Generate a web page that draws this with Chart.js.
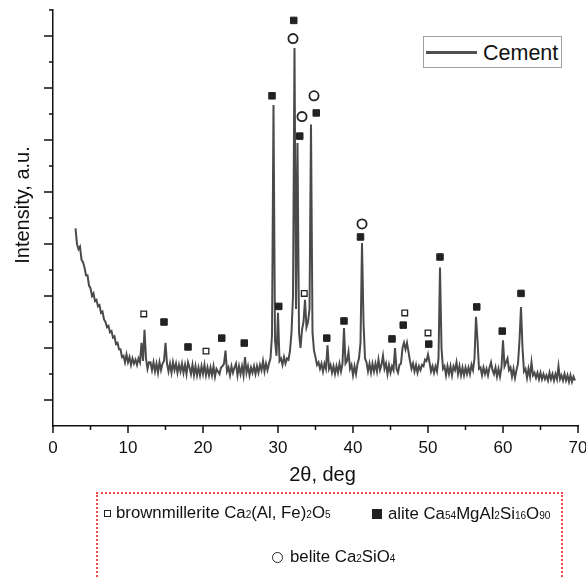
<!DOCTYPE html>
<html>
<head>
<meta charset="utf-8">
<script src="https://cdn.jsdelivr.net/npm/chart.js@4.4.1/dist/chart.umd.min.js"></script>
<style>
  html, body { margin: 0; padding: 0; background: #fff; overflow: hidden; }
  #wrap { position: relative; width: 586px; height: 577px; font-family: "Liberation Sans", Arial, sans-serif; color: #111; }
  #chart { position: absolute; left: 0; top: 0; }
  .legend { position: absolute; left: 423px; top: 36px; width: 137px; height: 30px; border: 1px solid #a0a0a0; background: #fff; }
  .legend .swatch { position: absolute; left: 2px; top: 14px; width: 51px; height: 2.5px; background: #505050; }
  .legend .label { position: absolute; left: 59px; top: 5px; font-size: 21.5px; line-height: 22px; white-space: nowrap; }
  .phases { position: absolute; left: 96px; top: 492px; width: 463px; height: 120px; border: 2px dotted #f04848; }
  .item { position: absolute; font-size: 16.8px; line-height: 16px; white-space: nowrap; }
  .item sub { font-size: 0.6em; vertical-align: baseline; }
  .sym { position: absolute; box-sizing: border-box; }
</style>
</head>
<body>
<div id="wrap">
  <canvas id="chart" width="586" height="577"></canvas>
  <div class="legend"><div class="swatch"></div><div class="label">Cement</div></div>
  <div class="phases">
    <span class="sym" style="left:6px; top:16px; width:7px; height:7px; border:1px solid #222;"></span>
    <div class="item" style="left:18px; top:11px;">brownmillerite Ca<sub>2</sub>(Al, Fe)<sub>2</sub>O<sub>5</sub></div>
    <span class="sym" style="left:274px; top:15px; width:10px; height:10px; background:#222;"></span>
    <div class="item" style="left:290px; top:12px;">alite Ca<sub>54</sub>MgAl<sub>2</sub>Si<sub>16</sub>O<sub>90</sub></div>
    <span class="sym" style="left:174px; top:58px; width:11px; height:11px; border:1px solid #222; border-radius:50%;"></span>
    <div class="item" style="left:192px; top:55px;">belite Ca<sub>2</sub>SiO<sub>4</sub></div>
  </div>
</div>
<script>
// XRD pattern of the cement, 2theta in degrees, intensity in arbitrary units
const twoTheta = [
  3.0, 3.2, 3.4, 3.6, 3.8, 4.0, 4.2, 4.4, 4.6, 4.8,
  5.0, 5.2, 5.4, 5.6, 5.8, 6.0, 6.2, 6.4, 6.6, 6.8,
  7.0, 7.2, 7.4, 7.6, 7.8, 8.0, 8.2, 8.4, 8.6, 8.8,
  9.0, 9.2, 9.4, 9.6, 9.8, 10.0, 10.2, 10.4, 10.6, 10.8,
  11.0, 11.2, 11.4, 11.6, 11.8, 12.0, 12.2, 12.4, 12.6, 12.8,
  13.0, 13.2, 13.4, 13.6, 13.8, 14.0, 14.2, 14.4, 14.6, 14.8,
  15.0, 15.2, 15.4, 15.6, 15.8, 16.0, 16.2, 16.4, 16.6, 16.8,
  17.0, 17.2, 17.4, 17.6, 17.8, 18.0, 18.2, 18.4, 18.6, 18.8,
  19.0, 19.2, 19.4, 19.6, 19.8, 20.0, 20.2, 20.4, 20.6, 20.8,
  21.0, 21.2, 21.4, 21.6, 21.8, 22.0, 22.2, 22.4, 22.6, 22.8,
  23.0, 23.2, 23.4, 23.6, 23.8, 24.0, 24.2, 24.4, 24.6, 24.8,
  25.0, 25.2, 25.4, 25.6, 25.8, 26.0, 26.2, 26.4, 26.6, 26.8,
  27.0, 27.2, 27.4, 27.6, 27.8, 28.0, 28.2, 28.4, 28.6, 28.8,
  29.0, 29.2, 29.4, 29.6, 29.8, 30.0, 30.2, 30.4, 30.6, 30.8,
  31.0, 31.2, 31.4, 31.6, 31.8, 32.0, 32.2, 32.4, 32.6, 32.8,
  33.0, 33.2, 33.4, 33.6, 33.8, 34.0, 34.2, 34.4, 34.6, 34.8,
  35.0, 35.2, 35.4, 35.6, 35.8, 36.0, 36.2, 36.4, 36.6, 36.8,
  37.0, 37.2, 37.4, 37.6, 37.8, 38.0, 38.2, 38.4, 38.6, 38.8,
  39.0, 39.2, 39.4, 39.6, 39.8, 40.0, 40.2, 40.4, 40.6, 40.8,
  41.0, 41.2, 41.4, 41.6, 41.8, 42.0, 42.2, 42.4, 42.6, 42.8,
  43.0, 43.2, 43.4, 43.6, 43.8, 44.0, 44.2, 44.4, 44.6, 44.8,
  45.0, 45.2, 45.4, 45.6, 45.8, 46.0, 46.2, 46.4, 46.6, 46.8,
  47.0, 47.2, 47.4, 47.6, 47.8, 48.0, 48.2, 48.4, 48.6, 48.8,
  49.0, 49.2, 49.4, 49.6, 49.8, 50.0, 50.2, 50.4, 50.6, 50.8,
  51.0, 51.2, 51.4, 51.6, 51.8, 52.0, 52.2, 52.4, 52.6, 52.8,
  53.0, 53.2, 53.4, 53.6, 53.8, 54.0, 54.2, 54.4, 54.6, 54.8,
  55.0, 55.2, 55.4, 55.6, 55.8, 56.0, 56.2, 56.4, 56.6, 56.8,
  57.0, 57.2, 57.4, 57.6, 57.8, 58.0, 58.2, 58.4, 58.6, 58.8,
  59.0, 59.2, 59.4, 59.6, 59.8, 60.0, 60.2, 60.4, 60.6, 60.8,
  61.0, 61.2, 61.4, 61.6, 61.8, 62.0, 62.2, 62.4, 62.6, 62.8,
  63.0, 63.2, 63.4, 63.6, 63.8, 64.0, 64.2, 64.4, 64.6, 64.8,
  65.0, 65.2, 65.4, 65.6, 65.8, 66.0, 66.2, 66.4, 66.6, 66.8,
  67.0, 67.2, 67.4, 67.6, 67.8, 68.0, 68.2, 68.4, 68.6, 68.8,
  69.0, 69.2, 69.4, 69.6
];
const intensity = [
  7.6, 7.0, 6.8, 6.9, 6.4, 6.3, 6.1, 5.8, 5.8, 5.4,
  5.3, 5.0, 5.1, 4.8, 4.85, 4.6, 4.65, 4.35, 4.4, 4.1,
  4.0, 3.8, 3.85, 3.6, 3.65, 3.4, 3.45, 3.15, 3.2, 2.95,
  2.95, 2.65, 2.7, 2.45, 2.75, 2.45, 2.65, 2.35, 2.6, 2.4,
  2.55, 2.35, 2.6, 2.45, 3.2, 2.5, 3.7, 2.6, 2.2, 2.45,
  2.45, 2.15, 2.45, 2.1, 2.4, 2.05, 2.45, 2.15, 2.4, 2.5,
  3.2, 2.4, 2.1, 2.4, 2.05, 2.45, 2.15, 2.4, 2.05, 2.35,
  2.1, 2.4, 2.05, 2.35, 2.0, 2.45, 2.25, 2.0, 2.35, 1.95,
  2.3, 1.95, 2.25, 1.95, 2.3, 2.0, 2.35, 1.95, 2.25, 1.95,
  2.25, 1.95, 2.3, 1.9, 2.2, 2.1, 2.0, 2.25, 2.3, 2.4,
  2.9, 2.1, 2.25, 1.95, 2.3, 2.05, 2.25, 2.4, 1.95, 2.3,
  2.0, 2.3, 1.95, 2.65, 2.05, 2.3, 1.95, 2.25, 2.05, 2.3,
  2.0, 2.3, 2.05, 2.35, 2.15, 2.5, 2.1, 2.4, 2.15, 2.4,
  2.6, 3.5, 12.35, 3.3, 2.7, 4.35, 2.5, 2.6, 2.35, 2.65,
  2.4, 2.6, 2.55, 2.9, 3.6, 5.0, 14.54, 4.5, 10.88, 3.6,
  3.0, 3.7, 4.0, 4.85, 3.8, 4.0, 4.5, 11.6, 3.6, 2.9,
  2.65, 2.35, 2.45, 2.2, 2.4, 2.1, 2.4, 2.2, 3.1, 2.2,
  2.35, 2.05, 2.3, 2.0, 2.3, 2.05, 2.4, 2.1, 2.4, 3.77,
  2.4, 2.5, 2.85, 2.2, 2.35, 1.95, 2.3, 2.0, 2.4, 2.6,
  3.2, 7.04, 4.0, 2.6, 2.45, 2.1, 2.4, 2.05, 2.4, 2.1,
  2.4, 2.1, 2.55, 2.15, 2.35, 2.7, 2.2, 2.4, 2.0, 2.35,
  2.05, 2.3, 2.15, 3.0, 2.2, 2.05, 2.35, 2.4, 3.0, 3.2,
  2.95, 3.2, 2.85, 2.5, 2.2, 2.4, 2.1, 2.35, 2.05, 2.3,
  2.15, 2.35, 2.3, 2.55, 2.5, 2.75, 2.45, 2.1, 2.3, 2.05,
  2.3, 2.1, 2.6, 6.1, 3.0, 2.2, 2.3, 1.95, 2.3, 2.0,
  2.3, 1.95, 2.3, 2.15, 2.45, 2.0, 2.3, 1.95, 2.25, 1.95,
  2.25, 2.0, 2.25, 2.0, 2.35, 2.15, 2.6, 4.2, 3.3, 2.2,
  2.25, 1.95, 2.25, 2.0, 2.2, 1.95, 2.25, 2.45, 2.15, 2.0,
  2.25, 1.9, 2.2, 1.9, 2.25, 3.3, 2.3, 2.45, 2.6, 2.15,
  2.25, 1.9, 2.2, 1.85, 2.15, 2.4, 3.3, 4.58, 3.0, 2.1,
  2.2, 1.85, 2.2, 1.9, 2.45, 1.95, 2.05, 1.85, 2.05, 1.8,
  2.05, 1.8, 2.0, 1.8, 1.95, 1.75, 2.05, 1.8, 2.0, 1.75,
  2.0, 1.8, 2.3, 1.8, 1.95, 1.75, 2.0, 1.75, 1.95, 1.7,
  1.95, 1.7, 1.9, 1.75
];

// phase markers placed above the peaks
const brownmilleriteX = [12.1, 20.4, 33.5, 46.9, 50.0];
const brownmilleriteY = [4.31, 2.88, 5.1, 4.35, 3.58];
const aliteX = [14.8, 18.0, 22.5, 25.5, 29.2, 30.1, 32.1, 32.9, 35.1, 36.5, 38.8, 41.0, 45.2, 46.7, 50.1, 51.6, 56.5, 59.9, 62.4];
const aliteY = [4.0, 3.04, 3.38, 3.19, 12.7, 4.6, 15.6, 11.15, 12.04, 3.38, 4.04, 7.27, 3.35, 3.88, 3.15, 6.5, 4.58, 3.65, 5.1];
const beliteX = [32.0, 33.2, 34.8, 41.2];
const beliteY = [14.9, 11.9, 12.7, 7.77];

// axis ticks
const xMajorTicks = [0, 10, 20, 30, 40, 50, 60, 70];
const xMinorTicks = [5, 15, 25, 35, 45, 55, 65];
const yMajorTicks = [1, 3, 5, 7, 9, 11, 13, 15];
const yMinorTicks = [2, 4, 6, 8, 10, 12, 14, 16];

const FONT = "'Liberation Sans', Arial, sans-serif";

function pairs(xs, ys) {
  return xs.map((v, i) => ({ x: v, y: ys[i] }));
}

const tickMarks = {
  id: 'tickMarks',
  afterDraw(chart) {
    const { ctx, scales: { x, y } } = chart;
    ctx.save();
    ctx.strokeStyle = '#111';
    ctx.lineWidth = 1.5;
    ctx.beginPath();
    xMajorTicks.forEach(v => { const p = x.getPixelForValue(v); ctx.moveTo(p, y.bottom); ctx.lineTo(p, y.bottom + 7); });
    xMinorTicks.forEach(v => { const p = x.getPixelForValue(v); ctx.moveTo(p, y.bottom); ctx.lineTo(p, y.bottom + 4); });
    yMajorTicks.forEach(v => { const p = y.getPixelForValue(v); ctx.moveTo(x.left, p); ctx.lineTo(x.left - 9, p); });
    yMinorTicks.forEach(v => { const p = y.getPixelForValue(v); ctx.moveTo(x.left, p); ctx.lineTo(x.left - 4, p); });
    ctx.stroke();

    // axis titles
    ctx.fillStyle = '#111';
    ctx.font = '20px ' + FONT;
    ctx.textAlign = 'center';
    ctx.textBaseline = 'alphabetic';
    ctx.fillText('2θ, deg', (x.left + x.right) / 2 + 7, y.bottom + 55);
    ctx.translate(28.5, (y.top + y.bottom) / 2 - 13);
    ctx.rotate(-Math.PI / 2);
    ctx.fillText('Intensity, a.u.', 0, 0);
    ctx.restore();
  }
};

new Chart(document.getElementById('chart'), {
  type: 'line',
  data: {
    datasets: [{
        label: 'Cement',
        data: pairs(twoTheta, intensity),
        borderColor: '#4a4a4a',
        borderWidth: 2,
        pointRadius: 0,
        tension: 0,
        fill: false,
        order: 1
      }, {
        label: 'brownmillerite',
        type: 'scatter',
        data: pairs(brownmilleriteX, brownmilleriteY),
        pointStyle: 'rect',
        pointRadius: 4,
        pointBorderWidth: 1.3,
        pointBorderColor: '#222',
        pointBackgroundColor: '#fff',
        order: 0
      }, {
        label: 'alite',
        type: 'scatter',
        data: pairs(aliteX, aliteY),
        pointStyle: 'rect',
        pointRadius: 4.6,
        pointBorderWidth: 1,
        pointBorderColor: '#222',
        pointBackgroundColor: '#222',
        order: 0
      }, {
        label: 'belite',
        type: 'scatter',
        data: pairs(beliteX, beliteY),
        pointStyle: 'circle',
        pointRadius: 4.6,
        pointBorderWidth: 1.8,
        pointBorderColor: '#222',
        pointBackgroundColor: '#fff',
        order: 0
      }
    ]
  },
  options: {
    responsive: false,
    animation: false,
    layout: { padding: { top: 10, right: 8, left: 0, bottom: 0 } },
    plugins: {
      legend: { display: false },
      tooltip: { enabled: false }
    },
    scales: {
      x: {
        type: 'linear',
        min: 0,
        max: 70,
        afterFit(s) { s.height = 151; s.paddingLeft = 0; s.paddingRight = 0; },
        grid: { display: false, drawTicks: false },
        border: { display: true, color: '#111', width: 1.5 },
        ticks: {
          stepSize: 10,
          padding: 12,
          color: '#111',
          font: { family: FONT, size: 17 }
        }
      },
      y: {
        min: 0,
        max: 16,
        afterFit(s) { s.width = 53; s.paddingTop = 0; s.paddingBottom = 0; },
        grid: { display: false, drawTicks: false },
        border: { display: true, color: '#111', width: 1.5 },
        ticks: { display: false }
      }
    }
  },
  plugins: [tickMarks]
});
</script>
</body>
</html>
